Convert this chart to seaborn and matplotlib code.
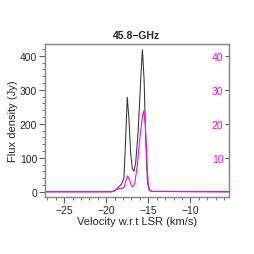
import numpy as np
import pandas as pd
import matplotlib
matplotlib.use("Agg")
import matplotlib.pyplot as plt
import seaborn as sns
from matplotlib.ticker import MultipleLocator

# velocity (km/s) and flux density
vel_black = [-27.3, -19.4, -19.0, -18.6, -18.2, -17.9, -17.7, -17.5, -17.3, -17.1,
             -16.9, -16.7, -16.5, -16.2, -15.9, -15.7, -15.5, -15.3, -15.1, -14.9,
             -14.6, -5.4]
flux_black = [0, 0, 3, 12, 22, 40, 150, 278, 215, 115,
              68, 60, 85, 180, 330, 418, 330, 150, 30, 5,
              1, 0]

vel_mag = [-27.3, -19.4, -19.0, -18.6, -18.2, -17.9, -17.7, -17.45, -17.2, -17.0,
           -16.8, -16.6, -16.3, -16.0, -15.7, -15.55, -15.35, -15.15, -15.0, -14.8,
           -14.5, -5.4]
flux_mag = [0, 0, 0.3, 0.9, 1.0, 1.2, 3.0, 4.7, 3.2, 1.7,
            1.5, 2.5, 8, 16, 22, 23.8, 20, 8, 2, 0.4,
            0.1, 0]

title = "45.8\u2212GHz"
xlabel = "Velocity w.r.t LSR (km/s)"
ylabel = "Flux density (Jy)"

sns.set_style("ticks")
plt.rcParams['font.family'] = ['Liberation Sans', 'DejaVu Sans']
plt.rcParams['axes.unicode_minus'] = True

fig = plt.figure(figsize=(2.55, 2.55), dpi=100)
ax = fig.add_axes([0.176, 0.224, 0.722, 0.6])

df1 = pd.DataFrame({"v": vel_black, "f": flux_black})
df2 = pd.DataFrame({"v": vel_mag, "f": flux_mag})

sns.lineplot(data=df1, x="v", y="f", ax=ax, color="#333333", lw=0.75)
ax2 = ax.twinx()
ax2.set_position([0.176, 0.224, 0.722, 0.6])
sns.lineplot(data=df2, x="v", y="f", ax=ax2, color="#ff00ff", lw=0.8)

ax.set_xlim(-27.3, -5.4)
ax.set_ylim(-15, 435)
ax2.set_ylim(-1.5, 43.5)

ax.xaxis.set_major_locator(MultipleLocator(5))
ax.xaxis.set_minor_locator(MultipleLocator(1))
ax.yaxis.set_major_locator(MultipleLocator(100))
ax.yaxis.set_minor_locator(MultipleLocator(20))
ax.tick_params(which="major", length=4, width=0.7, color="#555555", labelsize=7.5, pad=1.5)
ax.tick_params(which="minor", length=2, width=0.6, color="#555555")

ax2.set_yticks([10, 20, 30, 40])
ax2.tick_params(axis="y", direction="in", length=3, width=0.7, color="#555555",
                labelsize=7.5, labelcolor="#ff00ff", pad=-4)
for lab in ax2.get_yticklabels():
    lab.set_horizontalalignment("right")

for a in (ax, ax2):
    for s in a.spines.values():
        s.set_visible(True)
        s.set_color("#888888")
        s.set_linewidth(0.9)

ax.set_xlabel(xlabel, fontsize=8, labelpad=1)
ax.set_ylabel(ylabel, fontsize=8, labelpad=1)
ax2.set_ylabel("")
ax.set_title(title, fontsize=7.5, fontweight="bold", pad=4)

fig.savefig("out.png", dpi=100)
